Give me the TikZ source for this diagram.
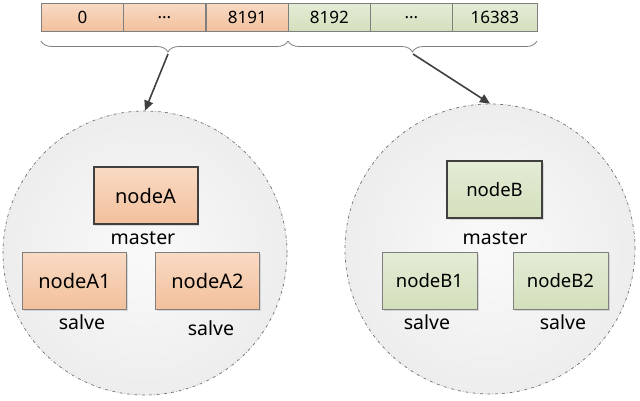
\documentclass[tikz,border=0pt]{standalone}
\usepackage{fontspec}
\setmainfont{Noto Sans}
\usetikzlibrary{arrows.meta,decorations.pathreplacing,shadows}
\definecolor{orL}{HTML}{F9DAC4}
\definecolor{orD}{HTML}{F2C09C}
\definecolor{grL}{HTML}{E4ECD6}
\definecolor{grD}{HTML}{D3DFBC}
\definecolor{edge}{HTML}{7F7F7F}
\definecolor{dark}{HTML}{404040}
\tikzset{
  cell/.style={draw=edge, line width=0.8pt, minimum width=82pt, minimum height=28pt, anchor=north west, inner sep=0pt, font=\fontsize{17}{17}\selectfont},
  orcell/.style={cell, top color=orL, bottom color=orD},
  grcell/.style={cell, top color=grL, bottom color=grD},
  zone/.style={circle, draw=edge!90!black, dash dot, line width=0.7pt, inner color=black!2, outer color=black!7, inner sep=0pt},
  nodebox/.style={draw=edge, line width=0.8pt, minimum width=104pt, minimum height=57pt, inner sep=0pt, drop shadow={shadow xshift=1.5pt, shadow yshift=-1.5pt, opacity=0.25}},
  orbox/.style={nodebox, top color=orL, bottom color=orD, font=\fontsize{20}{20}\selectfont},
  grbox/.style={nodebox, top color=grL, bottom color=grD, minimum width=95pt, font=\fontsize{18.5}{18.5}\selectfont},
  masterbox/.style={draw=dark, line width=2pt},
  role/.style={font=\fontsize{19.5}{19.5}\selectfont, inner sep=0pt},
  brc/.style={draw=edge, line width=0.8pt, decorate, decoration={brace, amplitude=11pt, mirror}},
  link/.style={draw=dark, line width=1.6pt, -{Triangle[length=10pt,width=9pt]}}
}
\begin{document}
\begin{tikzpicture}[x=1pt,y=-1pt]
\useasboundingbox (0,0) rectangle (640,400);
% slot strip
\node[orcell] (c0) at (41,3) {0};
\node[orcell] (c1) at (123,3) {...};
\node[orcell] (c2) at (206,3) {8191};
\node[grcell, minimum width=82pt] (c3) at (288,3) {8192};
\node[grcell] (c4) at (370,3) {...};
\node[grcell, minimum width=85pt] (c5) at (452,3) {16383};
% braces
\draw[brc, decoration={aspect=0.514}] (41,41) -- (288,41);
\draw[brc] (288,41) -- (537,41);
\coordinate (tipA) at (168,54);
\coordinate (tipB) at (413,54);
% zones
\node[zone, minimum size=284pt] (zA) at (145,253) {};
\node[zone, minimum size=290pt] (zB) at (490,249) {};
% arrows
\draw[link] (tipA) -- (zA.north);
\draw[link] (tipB) -- (zB.north);
% group A
\node[orbox, masterbox] (nA) at (145.5,195.5) {nodeA};
\node[role] (mA) at (143,238) {master};
\node[orbox] (nA1) at (74.5,280.5) {nodeA1};
\node[role] (sA1) at (82,322) {salve};
\node[orbox] (nA2) at (207.5,280.5) {nodeA2};
\node[role] (sA2) at (211,328) {salve};
% group B
\node[grbox, masterbox] (nB) at (494.5,189.5) {nodeB};
\node[role] (mB) at (495,238) {master};
\node[grbox] (nB1) at (429.5,280.5) {nodeB1};
\node[role] (sB1) at (427,322) {salve};
\node[grbox] (nB2) at (560.5,280.5) {nodeB2};
\node[role] (sB2) at (563,322) {salve};
\end{tikzpicture}
\end{document}
